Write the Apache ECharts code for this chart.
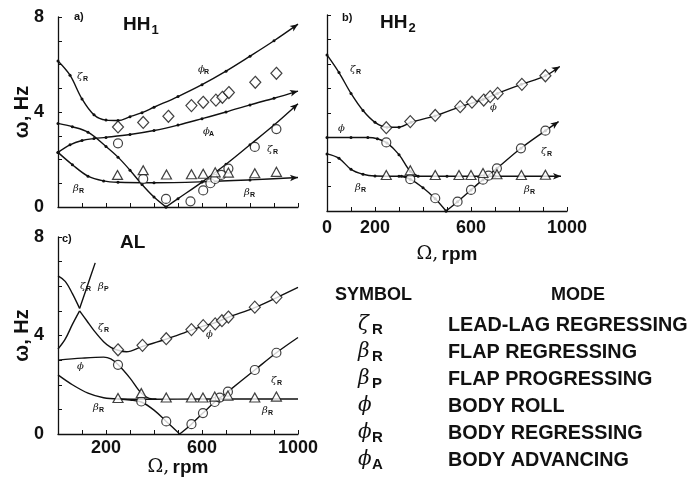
<!DOCTYPE html>
<html><head><meta charset="utf-8">
<script src="https://cdn.jsdelivr.net/npm/echarts@6/dist/echarts.min.js"></script>
<style>html,body{margin:0;padding:0;background:#fff}#c{width:693px;height:490px}</style>
</head><body><div id="c"></div>
<script>
// ---------------- DATA (rpm, Hz) ----------------
// Panel a) HH1
const aZetaPhiR = [[0,6.15],[50,5.55],[100,4.55],[150,3.88],[200,3.66],[250,3.64],[300,3.8],[350,3.97],[400,4.2],[500,4.65],[600,5.15],[700,5.72],[800,6.35],[900,7.0],[1000,7.7]];
const aPhiA = [[0,2.3],[50,2.62],[100,2.8],[150,2.88],[200,2.93],[300,3.05],[400,3.22],[500,3.45],[600,3.72],[700,4.0],[800,4.3],[900,4.58],[1000,4.88]];
const aPhi = [[0,3.52],[60,3.38],[125,3.15],[200,2.55],[250,2.1],[300,1.55],[350,0.95],[400,0.42],[450,0]];
const aZetaRise = [[450,0],[500,0.35],[600,1.05],[700,1.8],[800,2.62],[900,3.45],[1000,4.35]];
const aBetaR = [[0,2.3],[60,1.78],[125,1.3],[190,1.1],[250,1.04],[400,1.02],[600,1.06],[800,1.14],[1000,1.24]];
const aDiamonds = [[250,3.37],[355,3.56],[460,3.82],[556,4.27],[605,4.41],[658,4.5],[685,4.62],[712,4.82],[822,5.25],[910,5.63]];
const aCircles = [[250,2.68],[355,1.18],[450,0.34],[552,0.24],[605,0.7],[635,1.0],[655,1.18],[680,1.35],[710,1.62],[820,2.53],[910,3.28]];
const aTriangles = [[248,1.35],[355,1.55],[452,1.37],[556,1.38],[605,1.4],[655,1.46],[710,1.45],[820,1.42],[910,1.48]];

// Panel b) HH2
const bZetaPhiR = [[0,6.37],[50,5.65],[100,4.8],[150,4.1],[200,3.62],[250,3.42],[300,3.42],[350,3.62],[450,3.88],[550,4.24],[650,4.55],[710,4.8],[810,5.17],[910,5.52],[970,5.9]];
const bPhi = [[0,3.0],[100,3.0],[170,3.0],[210,2.95],[250,2.78],[300,2.3],[347,1.62],[380,1.42]];
const bBetaR = [[0,2.33],[50,2.15],[100,1.7],[150,1.5],[200,1.43],[300,1.42],[500,1.42],[700,1.42],[975,1.42]];
const bDown = [[310,1.42],[347,1.3],[400,0.95],[451,0.5],[496,0]];
const bZetaRise = [[496,0],[544,0.38],[600,0.86],[650,1.28],[708,1.74],[808,2.56],[910,3.28],[965,3.65]];
const bDiamonds = [[247,3.4],[347,3.65],[451,3.9],[555,4.26],[604,4.44],[653,4.53],[680,4.67],[711,4.8],[812,5.17],[910,5.52]];
const bCircles = [[247,2.8],[347,1.3],[451,0.52],[544,0.38],[600,0.86],[650,1.28],[673,1.44],[708,1.74],[808,2.56],[910,3.28]];
const bTriangles = [[247,1.47],[347,1.66],[451,1.47],[550,1.47],[600,1.47],[650,1.55],[708,1.5],[810,1.47],[910,1.48]];

// Panel c) AL
const cZetaTop = [[0,6.42],[30,6.2],[60,5.7],[90,5.1]];
const cBetaP = [[90,5.1],[120,5.95],[155,6.95]];
const cLowerRise = [[0,3.45],[30,3.85],[60,4.45],[90,5.0]];
const cZetaPhiR = [[90,5.0],[120,4.6],[150,4.2],[190,3.75],[220,3.52],[250,3.4],[285,3.34],[350,3.55],[451,3.85],[556,4.22],[605,4.38],[655,4.52],[710,4.74],[820,5.13],[910,5.53],[1000,5.95]];
const cPhi = [[0,3.0],[100,3.08],[190,3.12],[220,3.05],[250,2.82],[300,2.27],[347,1.66],[380,1.45],[410,1.42]];
const cBetaR = [[0,2.4],[60,2.0],[125,1.66],[190,1.47],[250,1.42],[400,1.41],[600,1.42],[800,1.42],[1000,1.42]];
const cDown = [[250,1.42],[300,1.38],[347,1.3],[400,0.97],[451,0.51],[507,0]];
const cZetaRise = [[507,0],[556,0.4],[604,0.85],[653,1.3],[708,1.72],[820,2.6],[910,3.3],[1000,3.92]];
const cDiamonds = [[250,3.42],[352,3.6],[451,3.87],[556,4.24],[605,4.4],[655,4.47],[683,4.6],[710,4.75],[820,5.15],[910,5.55]];
const cCircles = [[250,2.81],[347,1.32],[451,0.51],[556,0.4],[604,0.85],[653,1.3],[674,1.48],[708,1.72],[820,2.6],[910,3.3]];
const cTriangles = [[250,1.46],[347,1.66],[451,1.48],[556,1.48],[604,1.48],[653,1.52],[708,1.56],[820,1.48],[910,1.52]];

// Tick labels
const yTickLabels = [0,4,8];
const bXTickLabels = [0,200,600,1000];
const cXTickLabels = [200,600,1000];

// Legend table
const legendRows = [
  ['ζ','R','LEAD-LAG REGRESSING'],
  ['β','R','FLAP REGRESSING'],
  ['β','P','FLAP PROGRESSING'],
  ['ϕ','','BODY ROLL'],
  ['ϕ','R','BODY REGRESSING'],
  ['ϕ','A','BODY ADVANCING']
];

// ---------------- CHART ----------------
const FONT = 'Liberation Sans, Arial, sans-serif';
const INK = '#111';
const chart = echarts.init(document.getElementById('c'), null, {renderer:'canvas'});

function xAx(gi, labels, withName, nameGap, margin){
  return {type:'value', gridIndex:gi, min:0, max:1000, interval:100,
    axisLine:{lineStyle:{color:INK,width:1.3}},
    axisTick:{inside:true,length:4,lineStyle:{color:INK,width:1}},
    splitLine:{show:false},
    axisLabel:{show:!!labels, margin:margin||7, color:INK, fontFamily:FONT, fontWeight:'bold', fontSize:18,
      formatter:v=> (labels && labels.indexOf(v)>=0) ? String(v) : ''},
    name: withName ? '{o|Ω,} {r|rpm}' : '', nameLocation:'middle', nameGap:nameGap||30, nameMoveOverlap:false,
    nameTextStyle:{rich:{o:{fontFamily:'DejaVu Serif, serif',fontSize:19,color:INK},
                         r:{fontFamily:FONT,fontWeight:'bold',fontSize:19,color:INK}}}
  };
}
function yAx(gi, labels, withName){
  return {type:'value', gridIndex:gi, min:0, max:8, interval:1,
    axisLine:{show:true,lineStyle:{color:INK,width:1.3}},
    axisTick:{show:true,inside:true,length:4,lineStyle:{color:INK,width:1}},
    splitLine:{show:false},
    axisLabel:{show:!!labels, margin:14, color:INK, fontFamily:FONT, fontWeight:'bold', fontSize:18,
      formatter:v=> (labels && labels.indexOf(v)>=0) ? String(v) : ''},
    name: withName ? 'ω, Hz' : '', nameLocation:'middle', nameRotate:90, nameGap:26, nameMoveOverlap:false,
    nameTextStyle:{fontFamily:FONT,fontWeight:'bold',fontSize:20,color:INK}
  };
}
function curve(gi, data, dots, arrowRot){
  const items = data.map((p,i)=>{
    if (arrowRot!==undefined && i===data.length-1)
      return {value:p.slice(), symbol:'arrow', symbolSize:[5,8], symbolRotate:arrowRot};
    return {value:p.slice()};
  });
  return {type:'line', xAxisIndex:gi, yAxisIndex:gi, data:items, smooth:0.35,
    lineStyle:{color:INK,width:1.4}, symbol:'circle', symbolSize:3, showSymbol:!!dots,
    itemStyle:{color:INK}, silent:true, z:2};
}
function marks(gi, data, shape){
  const size = shape==='diamond' ? [11,12] : shape==='triangle' ? [10,9] : 9;
  return {type:'scatter', xAxisIndex:gi, yAxisIndex:gi, data:data, symbol:shape, symbolSize:size,
    itemStyle:{color:'#fff', borderColor:INK, borderWidth:1.2}, silent:true, z:3};
}

function tx(x,y,s,size,weight,family,align,style){
  return {type:'text', x:x, y:y, silent:true,
    style:{text:s, fill:INK, fontSize:size, fontWeight:weight||'bold', fontFamily:family||FONT,
      fontStyle:style||'normal', align:align||'left', verticalAlign:'middle'}};
}
function ann(x,y,g,sub){
  const out=[tx(x-5,y-1,g,10,'normal','DejaVu Serif, serif','left','italic')];
  if (sub) out.push(tx(x+1,y+2,sub,7,'bold',FONT,'left'));
  return out;
}
function title(x,y,main,sub){
  const out=[tx(x,y,main,19,'bold')];
  if(sub) out.push(tx(x+(main.length*13.7)+1,y+5,sub,13,'bold'));
  return out;
}

let graphics = [];
graphics.push(tx(74,17,'a)',11,'bold'));
graphics = graphics.concat(title(123,25,'HH','1'));
graphics.push(tx(342,18,'b)',11,'bold'));
graphics = graphics.concat(title(380,23,'HH','2'));
graphics.push(tx(62,239,'c)',11,'bold'));
graphics.push(tx(120,243,'AL',19,'bold'));

[[82,77,'ζ','R'],[78,189,'β','R'],[203,70,'ϕ','R'],[208,132,'ϕ','A'],[272,150,'ζ','R'],[249,193,'β','R'],
 [355,70,'ζ','R'],[360,188,'β','R'],[546,152,'ζ','R'],[529,190,'β','R'],[343,129,'ϕ',''],[495,108,'ϕ',''],
 [85,287,'ζ','R'],[103,287,'β','P'],[103,328,'ζ','R'],[82,367,'ϕ',''],[98,408,'β','R'],[276,381,'ζ','R'],[267,411,'β','R'],[211,335,'ϕ','']
].forEach(a=>{graphics = graphics.concat(ann(a[0],a[1],a[2],a[3]));});

graphics.push(tx(335,295,'SYMBOL',18,'bold'));
graphics.push(tx(578,295,'MODE',18,'bold',FONT,'center'));
legendRows.forEach((r,i)=>{
  const y = 326 + i*27;
  graphics.push(tx(358,y-1,r[0],20,'normal','DejaVu Serif, serif','left','italic'));
  if (r[1]) graphics.push(tx(372,y+4,r[1],15,'bold'));
  graphics.push(tx(448,y,r[2],19.8,'bold'));
});

const option = {
  animation:false,
  backgroundColor:'#fff',
  grid:[
    {left:58, top:17, width:240, height:190},
    {left:327, top:15, width:240, height:196},
    {left:58, top:237, width:240, height:197}
  ],
  xAxis:[ xAx(0,null,false), xAx(1,bXTickLabels,true,34,8), xAx(2,cXTickLabels,true,24,5) ],
  yAxis:[ yAx(0,yTickLabels,true), yAx(1,null,false), yAx(2,yTickLabels,true) ],
  series:[
    curve(0,aZetaPhiR,true,-55), curve(0,aPhiA,true,-74), curve(0,aPhi,true), curve(0,aZetaRise,true,-48), curve(0,aBetaR,true,-87),
    marks(0,aDiamonds,'diamond'), marks(0,aCircles,'circle'), marks(0,aTriangles,'triangle'),
    curve(1,bZetaPhiR,true,-58), curve(1,bPhi,true), curve(1,bBetaR,true,-90), curve(1,bDown,true), curve(1,bZetaRise,true,-55),
    marks(1,bDiamonds,'diamond'), marks(1,bCircles,'circle'), marks(1,bTriangles,'triangle'),
    curve(2,cZetaTop,false), curve(2,cBetaP,false), curve(2,cLowerRise,false), curve(2,cZetaPhiR,false),
    curve(2,cPhi,false), curve(2,cBetaR,false), curve(2,cDown,false), curve(2,cZetaRise,false),
    marks(2,cDiamonds,'diamond'), marks(2,cCircles,'circle'), marks(2,cTriangles,'triangle')
  ],
  graphic:{elements:graphics}
};
chart.setOption(option);
</script></body></html>
